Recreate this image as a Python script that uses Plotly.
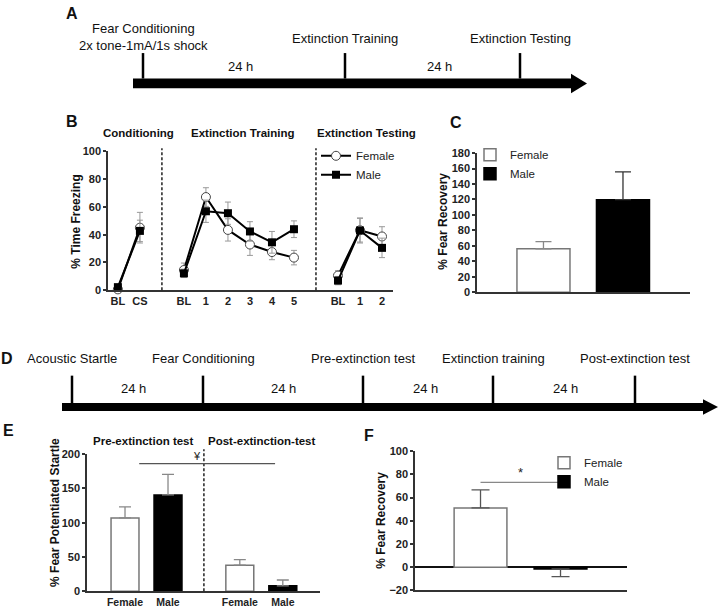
import plotly.graph_objects as go

W, H = 720, 615
FONT = "Liberation Sans, Arial, sans-serif"

# ---------------- data ----------------
# B: % time freezing (mean, SEM)
cond_labels = ["BL", "CS"]
ext_labels = ["BL", "1", "2", "3", "4", "5"]
test_labels = ["BL", "1", "2"]

cond_female = [0.7, 45]
cond_female_sem = [0.5, 11]
cond_male = [2.3, 42.7]
cond_male_sem = [1, 7.7]

ext_female = [14.6, 67, 43.4, 32.9, 27.5, 23.5]
ext_female_sem = [5, 6.7, 8, 7.8, 5.5, 5.2]
ext_male = [12.2, 56.8, 55.4, 42.3, 34.5, 43.9]
ext_male_sem = [3, 8, 8, 7, 7.8, 6]

test_female = [10.6, 43.2, 38.7]
test_female_sem = [3.5, 8.5, 7]
test_male = [7, 43, 30.5]
test_male_sem = [3, 9, 7]

# C: % fear recovery
sexes = ["Female", "Male"]
recovery_c = [56.3, 119.8]
recovery_c_sem = [9.3, 36]

# E: % fear potentiated startle
fps_sessions = ["Pre-extinction test", "Post-extinction-test"]
fps_female = [107, 38.2]
fps_female_sem = [16, 8]
fps_male = [140.5, 8]
fps_male_sem = [30, 8.5]

# F: % fear recovery (startle)
recovery_f = [51.1, -1.6]
recovery_f_sem = [15.6, 6.5]

# timelines
timeline_a_events = ["Fear Conditioning<br>2x tone-1mA/1s shock",
                     "Extinction Training", "Extinction Testing"]
timeline_a_gaps = ["24 h", "24 h"]
timeline_d_events = ["Acoustic Startle", "Fear Conditioning", "Pre-extinction test",
                     "Extinction training", "Post-extinction test"]
timeline_d_gaps = ["24 h", "24 h", "24 h", "24 h"]


def fx(p):
    return p / W


def fy(p):
    return 1 - p / H


fig = go.Figure()

# ---------------- panel B ----------------
groups = [
    (cond_labels, cond_female, cond_female_sem, cond_male, cond_male_sem),
    (ext_labels, ext_female, ext_female_sem, ext_male, ext_male_sem),
    (test_labels, test_female, test_female_sem, test_male, test_male_sem),
]
b_tickvals, b_ticktext, b_dividers = [], [], []
start = 0
for gi, (labels, f, fse, m, mse) in enumerate(groups):
    xs = list(range(start, start + len(labels)))
    b_tickvals += xs
    b_ticktext += labels
    fig.add_trace(go.Scatter(
        x=xs, y=f, mode="lines+markers", name="Female", legendgroup="f",
        showlegend=gi == 0, cliponaxis=False,
        line=dict(color="black", width=2),
        marker=dict(symbol="circle", size=9, color="white", line=dict(color="#444", width=1)),
        error_y=dict(type="data", array=fse, color="#999", thickness=1, width=3),
    ))
    fig.add_trace(go.Scatter(
        x=xs, y=m, mode="lines+markers", name="Male", legendgroup="m",
        showlegend=gi == 0, cliponaxis=False,
        line=dict(color="black", width=2),
        marker=dict(symbol="square", size=8, color="black"),
        error_y=dict(type="data", array=mse, color="#999", thickness=1, width=3),
    ))
    start += len(labels)
    if gi < len(groups) - 1:
        b_dividers.append(start)
    start += 1

# ---------------- panel C ----------------
c_colors = ["white", "black"]
c_lines = ["#777", "black"]
c_err = ["#888", "#333"]
for i, s in enumerate(sexes):
    fig.add_trace(go.Bar(
        x=[i], y=[recovery_c[i]], name=s, width=0.667, legend="legend2",
        xaxis="x2", yaxis="y2",
        marker=dict(color=c_colors[i], line=dict(color=c_lines[i], width=1.5)),
        error_y=dict(type="data", symmetric=False, array=[recovery_c_sem[i]], arrayminus=[0],
                     color=c_err[i], thickness=1.3, width=8),
    ))

# ---------------- panel E ----------------
e_gap = 2.67
e_female_x = [k * e_gap for k in range(len(fps_sessions))]
e_male_x = [x + 1 for x in e_female_x]
fig.add_trace(go.Bar(
    x=e_female_x, y=fps_female, name="Female", width=0.65, showlegend=False,
    xaxis="x3", yaxis="y3",
    marker=dict(color="white", line=dict(color="#777", width=1.5)),
    error_y=dict(type="data", symmetric=False, array=fps_female_sem, arrayminus=[0, 0],
                 color="#888", thickness=1.3, width=6),
))
fig.add_trace(go.Bar(
    x=e_male_x, y=fps_male, name="Male", width=0.65, showlegend=False,
    xaxis="x3", yaxis="y3",
    marker=dict(color="black", line=dict(color="black", width=1.5)),
    error_y=dict(type="data", symmetric=False, array=fps_male_sem, arrayminus=[0, 0],
                 color="#888", thickness=1.3, width=6),
))

# ---------------- panel F ----------------
for i, s in enumerate(sexes):
    v = recovery_f[i]
    up = [recovery_f_sem[i]] if v >= 0 else [0]
    down = [0] if v >= 0 else [recovery_f_sem[i]]
    fig.add_trace(go.Bar(
        x=[i], y=[v], name=s, width=0.66, legend="legend3",
        xaxis="x4", yaxis="y4",
        marker=dict(color=c_colors[i], line=dict(color=c_lines[i], width=1.5)),
        error_y=dict(type="data", symmetric=False, array=up, arrayminus=down,
                     color="#555", thickness=1.3, width=9),
    ))

# ---------------- axes ----------------
ax = dict(showline=True, linecolor="#333", linewidth=1.5, ticks="outside", ticklen=3,
          tickwidth=1.5, tickcolor="#333", showgrid=False, zeroline=False,
          tickfont=dict(size=11, weight="bold", color="#222", family=FONT))
noticks = dict(ax, ticks="")

fig.update_layout(
    xaxis=dict(noticks, domain=[fx(108), fx(393)], range=[-0.45, 12.5],
               tickvals=b_tickvals, ticktext=b_ticktext, anchor="y"),
    yaxis=dict(ax, domain=[fy(290), fy(148)], range=[0, 100], dtick=20, anchor="x"),
    xaxis2=dict(noticks, domain=[fx(477), fx(690)], range=[-0.836, 1.843],
                showticklabels=False, anchor="y2"),
    yaxis2=dict(ax, domain=[fy(292), fy(150)], range=[0, 180], dtick=20, anchor="x2"),
    xaxis3=dict(noticks, domain=[fx(87), fx(320)], range=[-0.884, 4.535],
                tickvals=e_female_x + e_male_x,
                ticktext=["Female"] * len(e_female_x) + ["Male"] * len(e_male_x), anchor="y3",
                tickfont=dict(size=10.5, weight="bold", color="#222", family=FONT)),
    yaxis3=dict(ax, domain=[fy(597), fy(457)], range=[0, 200], dtick=50, anchor="x3"),
    xaxis4=dict(noticks, domain=[fx(415), fx(627)], range=[-0.819, 1.831],
                showticklabels=False, anchor="y4"),
    yaxis4=dict(ax, domain=[fy(596), fy(454)], range=[-20, 100], dtick=20, anchor="x4",
                zeroline=True, zerolinecolor="#111", zerolinewidth=1.5),
)

leg = dict(bgcolor="rgba(0,0,0,0)", font=dict(size=11.5, family=FONT, color="#222"),
           xanchor="left", yanchor="top", tracegroupgap=0)
fig.update_layout(
    legend=dict(leg, x=fx(316), y=fy(138)),
    legend2=dict(leg, x=fx(470), y=fy(137)),
    legend3=dict(leg, x=fx(544), y=fy(451)),
)

# ---------------- shapes ----------------
shapes = []
dash = dict(color="#222", width=1.5, dash="3px,2px")
for d in b_dividers:
    shapes.append(dict(type="line", xref="x", yref="paper", x0=d, x1=d,
                       y0=fy(290), y1=fy(145), line=dash))
e_div = (e_male_x[0] + e_female_x[1]) / 2
shapes.append(dict(type="line", xref="x3", yref="paper", x0=e_div, x1=e_div,
                   y0=fy(597), y1=fy(452), line=dash))
shapes.append(dict(type="line", xref="x3", yref="y3", x0=0.33, x1=3.49, y0=186, y1=186,
                   line=dict(color="#555", width=1.2)))
shapes.append(dict(type="line", xref="x4", yref="y4", x0=0, x1=1, y0=73, y1=73,
                   line=dict(color="#888", width=1.2)))


def timeline(ticks, bar_x, bar_y, head, tick_top):
    out = [dict(type="rect", xref="paper", yref="paper", x0=fx(bar_x[0]), x1=fx(bar_x[1]),
                y0=fy(bar_y[1]), y1=fy(bar_y[0]), fillcolor="black", line=dict(width=0))]
    hx0, hx1, hy0, hy1 = head
    ym = (hy0 + hy1) / 2
    out.append(dict(type="path", xref="paper", yref="paper",
                    path=f"M {fx(hx0)},{fy(hy0)} L {fx(hx1)},{fy(ym)} L {fx(hx0)},{fy(hy1)} Z",
                    fillcolor="black", line=dict(width=0)))
    for t in ticks:
        out.append(dict(type="line", xref="paper", yref="paper", x0=fx(t), x1=fx(t),
                        y0=fy(bar_y[0]), y1=fy(tick_top), line=dict(color="black", width=2.5)))
    return out


a_ticks = [143, 345, 520]
d_ticks = [72, 203, 363, 493, 635]
shapes += timeline(a_ticks, (133, 574), (74, 84), (571, 587, 69, 89), 48)
shapes += timeline(d_ticks, (62, 706), (405, 413), (703, 718, 401, 417), 377)
fig.update_layout(shapes=shapes)

# ---------------- annotations ----------------
ann = []


def text(s, x, y, size=13, bold=False, angle=0, xanchor="center", color="#111"):
    ann.append(dict(text=s, x=fx(x), y=fy(y), xref="paper", yref="paper", showarrow=False,
                    xanchor=xanchor, yanchor="middle", textangle=angle,
                    font=dict(size=size, family=FONT, color=color,
                              weight="bold" if bold else "normal")))


for lbl, x, y in [("A", 72, 8), ("B", 72, 118), ("C", 456, 119),
                  ("D", 7, 360), ("E", 8, 433), ("F", 369, 438)]:
    text(lbl, x, y, size=16, bold=True)

for ev, t in zip(timeline_a_events, a_ticks):
    text(ev, t, 32 if "<br>" in ev else 33)
for g, x in zip(timeline_a_gaps, [240, 439]):
    text(g, x, 62)
for ev, t in zip(timeline_d_events, d_ticks):
    text(ev, t, 360)
for g, x in zip(timeline_d_gaps, [133, 283, 425, 565]):
    text(g, x, 390)

for s, x in zip(["Conditioning", "Extinction Training", "Extinction Testing"], [138, 243, 366]):
    text(s, x, 130, size=11.5, bold=True)
for s, x in zip(fps_sessions, [143, 262]):
    text(s, x, 444, size=11.5, bold=True)

text("% Time Freezing", 76, 220, size=12, bold=True, angle=-90)
text("% Fear Recovery", 443, 220, size=12, bold=True, angle=-90)
text("% Fear Potentiated Startle", 55, 517, size=12, bold=True, angle=-90)
text("% Fear Recovery", 381, 525, size=12, bold=True, angle=-90)

ann.append(dict(text="¥", x=1.67, y=186, xref="x3", yref="y3", showarrow=False,
                yanchor="bottom", font=dict(size=11, family=FONT, color="#222")))
ann.append(dict(text="*", x=0.5, y=73, xref="x4", yref="y4", showarrow=False,
                yanchor="bottom", font=dict(size=13, family=FONT, color="#222")))
fig.update_layout(annotations=ann)

fig.update_layout(
    width=W, height=H, margin=dict(l=0, r=0, t=0, b=0),
    plot_bgcolor="white", paper_bgcolor="white", barmode="overlay",
    font=dict(family=FONT, color="#111"),
)

# the page's default 8px body margin would push the figure off the 720x615 window
fig.write_html("out.html", config={"displayModeBar": False},
               post_script="document.body.style.margin = '0';")
